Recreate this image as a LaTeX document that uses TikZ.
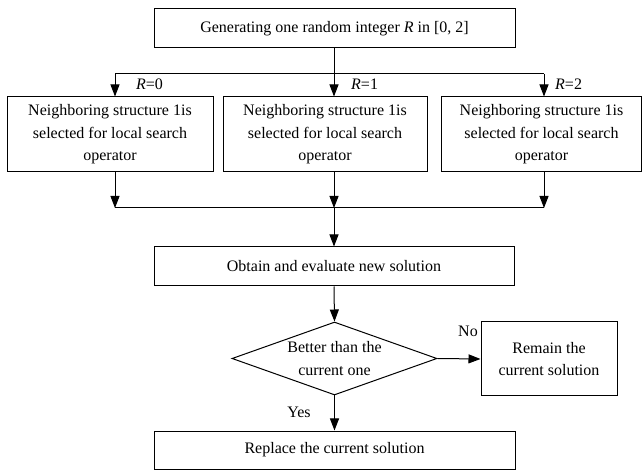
\documentclass[tikz,border=0pt]{standalone}
\usepackage{fontspec}
\setmainfont{Liberation Serif}
\usetikzlibrary{shapes.geometric,arrows.meta}
\begin{document}
\begin{tikzpicture}[x=1pt,y=-1pt,
  every node/.style={font=\fontsize{16}{22.5}\selectfont, inner sep=0pt},
  box/.style={draw, line width=1pt, align=center},
  conn/.style={line width=1pt},
  arr/.style={line width=1pt, -{Triangle[length=12pt,width=9pt]}}]
\useasboundingbox (0,0) rectangle (643,470);
% nodes
\node[box, minimum width=361pt, minimum height=39pt] (top) at (334.5,28.5) {Generating one random integer \textit{R} in [0, 2]};
\node[box, minimum width=206pt, minimum height=75pt] (b0) at (110,134.5) {Neighboring structure 1is\\selected for local search\\operator};
\node[box, minimum width=204pt, minimum height=75pt] (b1) at (325,134.5) {Neighboring structure 1is\\selected for local search\\operator};
\node[box, minimum width=200pt, minimum height=75pt] (b2) at (541.5,134.5) {Neighboring structure 1is\\selected for local search\\operator};
\node[box, minimum width=360pt, minimum height=39pt] (obt) at (334,266.5) {Obtain and evaluate new solution};
\node[diamond, draw, line width=1pt, minimum width=205pt, minimum height=73pt] (d) at (334.5,358.5) {};
\node[align=center] (dtext) at (d) {Better than the\\current one};
\node[box, minimum width=136pt, minimum height=74pt] (rem) at (549,359) {Remain the\\current solution};
\node[box, minimum width=361pt, minimum height=38pt] (rep) at (334.5,450) {Replace the current solution};
% labels
\node[anchor=west] (l0) at (136,84) {\textit{R}=0};
\node[anchor=west] (l1) at (351,84) {\textit{R}=1};
\node[anchor=west] (l2) at (555,84) {\textit{R}=2};
\node (no) at (468,331) {No};
\node (yes) at (299,412) {Yes};
% junction coordinates
\coordinate (j0) at (115,74);
\coordinate (j1) at (334,74);
\coordinate (j2) at (544,74);
\coordinate (k0) at (115,208);
\coordinate (k1) at (334,208);
\coordinate (k2) at (544,208);
% connectors
\draw[conn] (j1 |- top.south) -- (j1);
\draw[conn] (j0) -- (j2);
\draw[arr] (j0) -- (j0 |- b0.north);
\draw[arr] (j1) -- (j1 |- b1.north);
\draw[arr] (j2) -- (j2 |- b2.north);
\draw[arr] (k0 |- b0.south) -- (k0);
\draw[arr] (k1 |- b1.south) -- (k1);
\draw[arr] (k2 |- b2.south) -- (k2);
\draw[conn] (k0) -- (k2);
\draw[arr] (k1) -- (k1 |- obt.north);
\draw[arr] (k1 |- obt.south) -- (d.north);
\draw[arr] (d.east) -- (rem.west);
\draw[arr] (d.south) -- (rep.north);
\end{tikzpicture}
\end{document}
